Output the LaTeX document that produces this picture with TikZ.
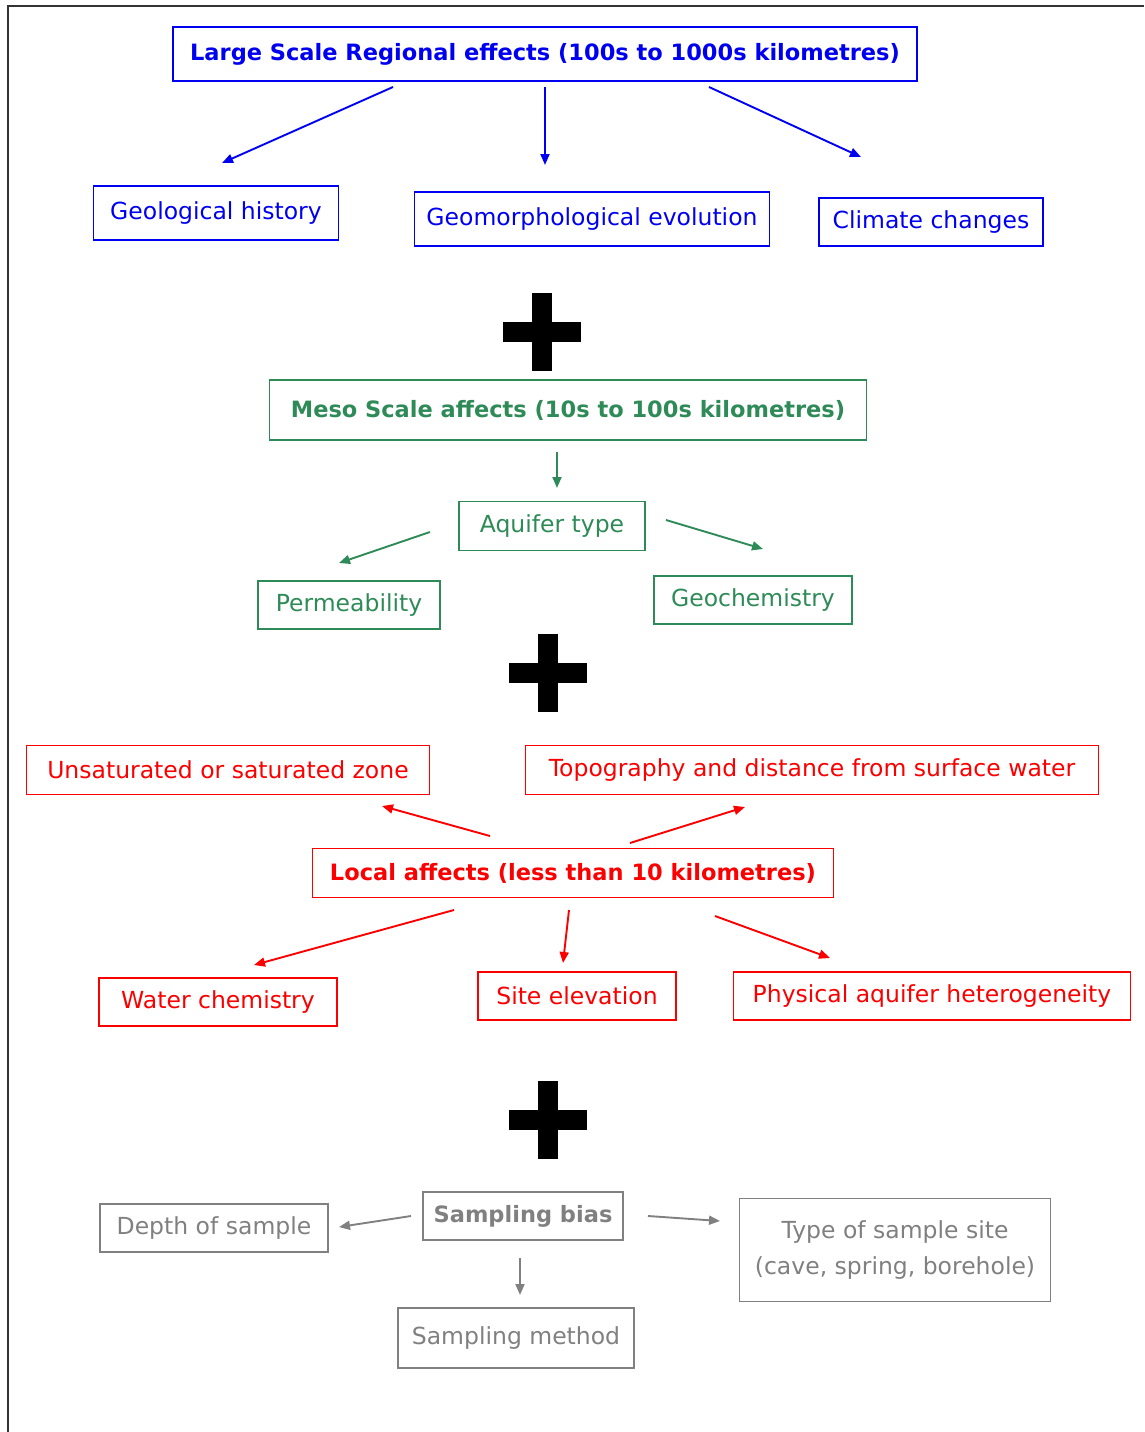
\documentclass[tikz,border=0pt]{standalone}
\usepackage{fontspec}
\setmainfont{DejaVu Sans}
\usetikzlibrary{arrows.meta}

\definecolor{regblue}{RGB}{0,0,240}
\definecolor{mesogreen}{RGB}{46,139,87}
\definecolor{localred}{RGB}{250,0,0}
\definecolor{biasgray}{RGB}{128,128,128}

\tikzset{
  box/.style={draw, line width=1.5pt, inner sep=0pt, font=\fontsize{23.5}{28}\selectfont},
  bold/.style={font=\fontsize{22.5}{28}\selectfont\bfseries},
  bluebox/.style={box, color=regblue},
  greenbox/.style={box, color=mesogreen},
  redbox/.style={box, color=localred},
  graybox/.style={box, color=biasgray},
  link/.style={-{Triangle[length=11pt,width=9pt]}, line width=1.9pt},
}

\newcommand{\plussign}[1]{%
  \fill[black] (#1) +(-39,-10) rectangle +(39,10);
  \fill[black] (#1) +(-10,-39) rectangle +(10,39);
}

\begin{document}
\begin{tikzpicture}[x=1pt,y=-1pt]
    \useasboundingbox (0,0) rectangle (1144,1432);
    \draw[line width=2.2pt, color=black!80] (8,1432) -- (8,6) -- (1144,6);

    %% large scale
    \node[bluebox, bold, minimum width=744, minimum height=54]
         (large) at (545,54) {Large Scale Regional effects (100s to 1000s kilometres)};
    \node[bluebox, minimum width=245, minimum height=54] (geol) at (216,213) {Geological history};
    \node[bluebox, minimum width=355, minimum height=54] (geom) at (592,219) {Geomorphological evolution};
    \node[bluebox, minimum width=224, minimum height=48] (clim) at (931,222) {Climate changes};
    \coordinate (l1) at (393,87);  \coordinate (l1e) at (222,163);
    \coordinate (l2) at (545,87);  \coordinate (l2e) at (545,165);
    \coordinate (l3) at (709,87);  \coordinate (l3e) at (861,157);
    \draw[link, regblue] (l1) -- (l1e);
    \draw[link, regblue] (l2) -- (l2e);
    \draw[link, regblue] (l3) -- (l3e);

    \plussign{542,332}

    %% meso scale
    \node[greenbox, bold, minimum width=597, minimum height=60]
         (meso) at (568,410) {Meso Scale affects (10s to 100s kilometres)};
    \node[greenbox, minimum width=186, minimum height=49] (aqui) at (552,526) {Aquifer type};
    \node[greenbox, minimum width=182, minimum height=48] (perm) at (349,605) {Permeability};
    \node[greenbox, minimum width=198, minimum height=48] (gchem) at (753,600) {Geochemistry};
    \coordinate (m0) at (557,452);  \coordinate (m0e) at (557,488);
    \coordinate (m1) at (430,532);  \coordinate (m1e) at (339,563);
    \coordinate (m2) at (666,520);  \coordinate (m2e) at (763,549);
    \draw[link, mesogreen] (m0) -- (m0e);
    \draw[link, mesogreen] (m1) -- (m1e);
    \draw[link, mesogreen] (m2) -- (m2e);

    \plussign{548,673}

    %% local scale
    \node[redbox, minimum width=403, minimum height=49] (unsat) at (228,770) {Unsaturated or saturated zone};
    \node[redbox, minimum width=573, minimum height=49] (topo) at (812,770) {Topography and distance from surface water};
    \node[redbox, bold, minimum width=521, minimum height=49]
         (local) at (573,873) {Local affects (less than 10 kilometres)};
    \node[redbox, minimum width=238, minimum height=48] (wchem) at (218,1002) {Water chemistry};
    \node[redbox, minimum width=198, minimum height=48] (elev) at (577,996) {Site elevation};
    \node[redbox, minimum width=397, minimum height=48] (phys) at (932,996) {Physical aquifer heterogeneity};
    \coordinate (r1) at (490,836);  \coordinate (r1e) at (382,806);
    \coordinate (r2) at (630,843);  \coordinate (r2e) at (745,807);
    \coordinate (r3) at (454,910);  \coordinate (r3e) at (254,965);
    \coordinate (r4) at (569,910);  \coordinate (r4e) at (563,963);
    \coordinate (r5) at (715,916);  \coordinate (r5e) at (830,958);
    \draw[link, localred] (r1) -- (r1e);
    \draw[link, localred] (r2) -- (r2e);
    \draw[link, localred] (r3) -- (r3e);
    \draw[link, localred] (r4) -- (r4e);
    \draw[link, localred] (r5) -- (r5e);

    \plussign{548,1120}

    %% sampling bias
    \node[graybox, bold, minimum width=200, minimum height=48]
         (bias) at (523,1216) {Sampling bias};
    \node[graybox, minimum width=228, minimum height=48] (depth) at (214,1228) {Depth of sample};
    \node[graybox, minimum width=311, minimum height=103, align=center,
          font=\fontsize{23.5}{36}\selectfont] (site) at (895,1250)
         {Type of sample site\\(cave, spring, borehole)};
    \node[graybox, minimum width=236, minimum height=60] (meth) at (516,1338) {Sampling method};
    \coordinate (g1) at (411,1216);  \coordinate (g1e) at (339,1227);
    \coordinate (g2) at (648,1216);  \coordinate (g2e) at (720,1221);
    \coordinate (g3) at (520,1258);  \coordinate (g3e) at (520,1295);
    \draw[link, biasgray] (g1) -- (g1e);
    \draw[link, biasgray] (g2) -- (g2e);
    \draw[link, biasgray] (g3) -- (g3e);
\end{tikzpicture}
\end{document}
